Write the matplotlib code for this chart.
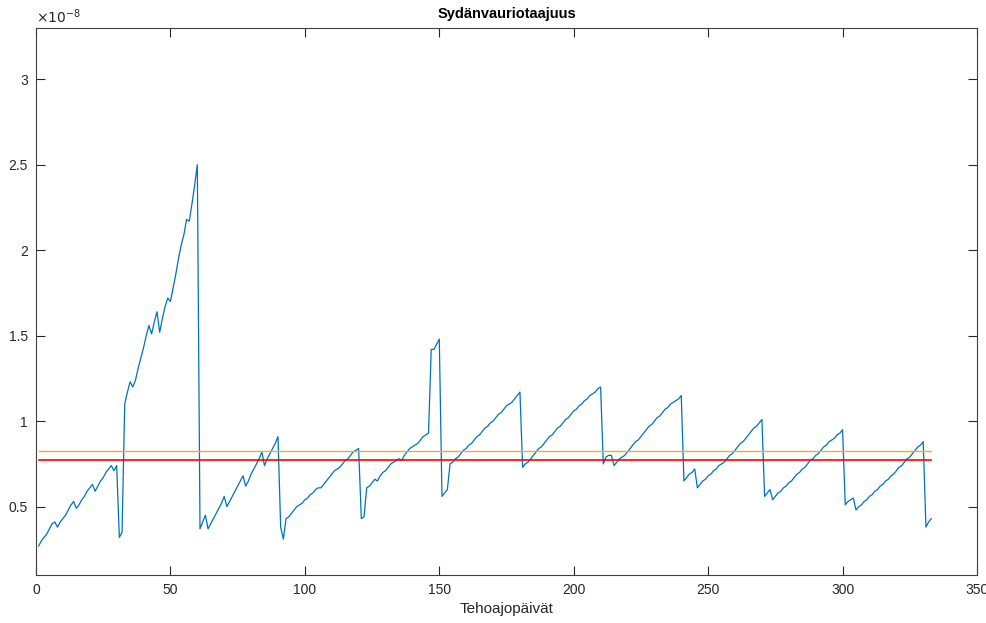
import numpy as np
import matplotlib
matplotlib.use('Agg')
import matplotlib.pyplot as plt

plt.rcParams['font.family'] = ['Liberation Sans', 'DejaVu Sans']

# core damage frequency per power day, units of 1e-8
seg1 = [0.27, 0.30, 0.32, 0.34, 0.37, 0.40, 0.41, 0.38, 0.41, 0.43,
        0.45, 0.48, 0.51, 0.53, 0.49, 0.51, 0.54, 0.56, 0.59, 0.61,
        0.63, 0.59, 0.62, 0.65, 0.67, 0.70, 0.72, 0.74, 0.71, 0.74,
        0.32, 0.35]
seg2 = [1.10, 1.17, 1.23, 1.20, 1.24, 1.31, 1.37, 1.43, 1.50, 1.56,
        1.51, 1.58, 1.64, 1.52, 1.60, 1.67, 1.72, 1.70, 1.78, 1.86,
        1.95, 2.03, 2.09, 2.18, 2.17, 2.27, 2.38, 2.50]
seg3 = [0.37, 0.41, 0.45, 0.37, 0.40, 0.43, 0.46, 0.49, 0.52, 0.56,
        0.50, 0.53, 0.56, 0.59, 0.62, 0.65, 0.68, 0.62, 0.65, 0.69,
        0.72, 0.75, 0.78, 0.82, 0.74, 0.78, 0.81, 0.84, 0.87, 0.91]
seg4 = [0.38, 0.31, 0.43, 0.44, 0.46, 0.48, 0.50, 0.51, 0.52, 0.54,
        0.55, 0.57, 0.58, 0.60, 0.61, 0.61, 0.63, 0.65, 0.67, 0.69,
        0.71, 0.72, 0.73, 0.75, 0.77, 0.78, 0.80, 0.82, 0.83, 0.84]
seg5 = [0.43, 0.44, 0.61, 0.62, 0.64, 0.66, 0.65, 0.68, 0.70, 0.71,
        0.73, 0.75, 0.76, 0.77, 0.78, 0.77, 0.80, 0.82, 0.84, 0.85,
        0.86, 0.87, 0.89, 0.91, 0.92, 0.93, 1.42, 1.42, 1.45, 1.48]
seg6 = [0.56, 0.58, 0.60, 0.75, 0.76, 0.78, 0.79, 0.81, 0.83, 0.84,
        0.86, 0.87, 0.89, 0.91, 0.92, 0.94, 0.96, 0.97, 0.99, 1.00,
        1.02, 1.04, 1.05, 1.07, 1.09, 1.10, 1.11, 1.13, 1.15, 1.17]
seg7 = [0.73, 0.75, 0.76, 0.78, 0.80, 0.82, 0.84, 0.85, 0.87, 0.89,
        0.91, 0.92, 0.94, 0.96, 0.97, 0.99, 1.01, 1.02, 1.04, 1.06,
        1.07, 1.09, 1.10, 1.12, 1.13, 1.15, 1.16, 1.17, 1.19, 1.20]
seg8 = [0.75, 0.79, 0.80, 0.80, 0.74, 0.76, 0.78, 0.79, 0.80, 0.82,
        0.84, 0.86, 0.88, 0.89, 0.91, 0.93, 0.95, 0.97, 0.98, 1.00,
        1.02, 1.03, 1.05, 1.07, 1.08, 1.10, 1.11, 1.12, 1.13, 1.15]
seg9 = [0.65, 0.67, 0.69, 0.70, 0.72, 0.61, 0.63, 0.65, 0.66, 0.68,
        0.69, 0.71, 0.72, 0.74, 0.75, 0.76, 0.78, 0.80, 0.81, 0.83,
        0.85, 0.87, 0.88, 0.90, 0.92, 0.94, 0.96, 0.97, 0.99, 1.01]
seg10 = [0.56, 0.58, 0.60, 0.54, 0.56, 0.58, 0.59, 0.61, 0.62, 0.64,
         0.65, 0.67, 0.69, 0.70, 0.72, 0.73, 0.75, 0.77, 0.78, 0.80,
         0.81, 0.83, 0.85, 0.86, 0.88, 0.89, 0.90, 0.92, 0.93, 0.95]
seg11 = [0.51, 0.53, 0.54, 0.55, 0.48, 0.50, 0.51, 0.53, 0.54, 0.56,
         0.57, 0.59, 0.60, 0.62, 0.63, 0.65, 0.66, 0.68, 0.69, 0.71,
         0.73, 0.74, 0.76, 0.78, 0.79, 0.81, 0.83, 0.85, 0.86, 0.88]
seg12 = [0.38, 0.41, 0.43]

cdf = np.array(seg1 + seg2 + seg3 + seg4 + seg5 + seg6 + seg7 + seg8
               + seg9 + seg10 + seg11 + seg12)
days = np.arange(1, len(cdf) + 1)

mean_line = 0.826   # orange reference level
limit_line = 0.773  # red reference level

fig = plt.figure(figsize=(9.87, 6.23), dpi=100)
ax = fig.add_axes([36/987, 48/623, 941/987, 547/623])

ax.plot(days, cdf, color='#0072BD', lw=0.9)
ax.plot([days[0], days[-1]], [mean_line, mean_line], color='#EDB120', lw=1.0)
ax.plot([days[0], days[-1]], [limit_line, limit_line], color='#FF0000', lw=1.2)

ax.set_xlim(0, 350)
ax.set_ylim(0.1, 3.3)
ax.set_xticks(np.arange(0, 351, 50))
ax.set_yticks([0.5, 1, 1.5, 2, 2.5, 3])
ax.set_yticklabels(['0.5', '1', '1.5', '2', '2.5', '3'])

gray = '#262626'
for s in ax.spines.values():
    s.set_color('#404040')
    s.set_linewidth(0.8)
ax.tick_params(direction='in', length=6.5, width=0.8, colors=gray,
               labelsize=10, top=True, right=True, pad=6)

ax.set_title('Sydänvauriotaajuus', fontsize=10.5, fontweight='bold', pad=7, color='black')
ax.set_xlabel('Tehoajopäivät', fontsize=11, labelpad=3, color=gray)
ax.text(0, 1.004, r'$\times10^{-8}$', transform=ax.transAxes, fontsize=10,
        color=gray, ha='left', va='bottom')

fig.savefig('out.png', dpi=100)
